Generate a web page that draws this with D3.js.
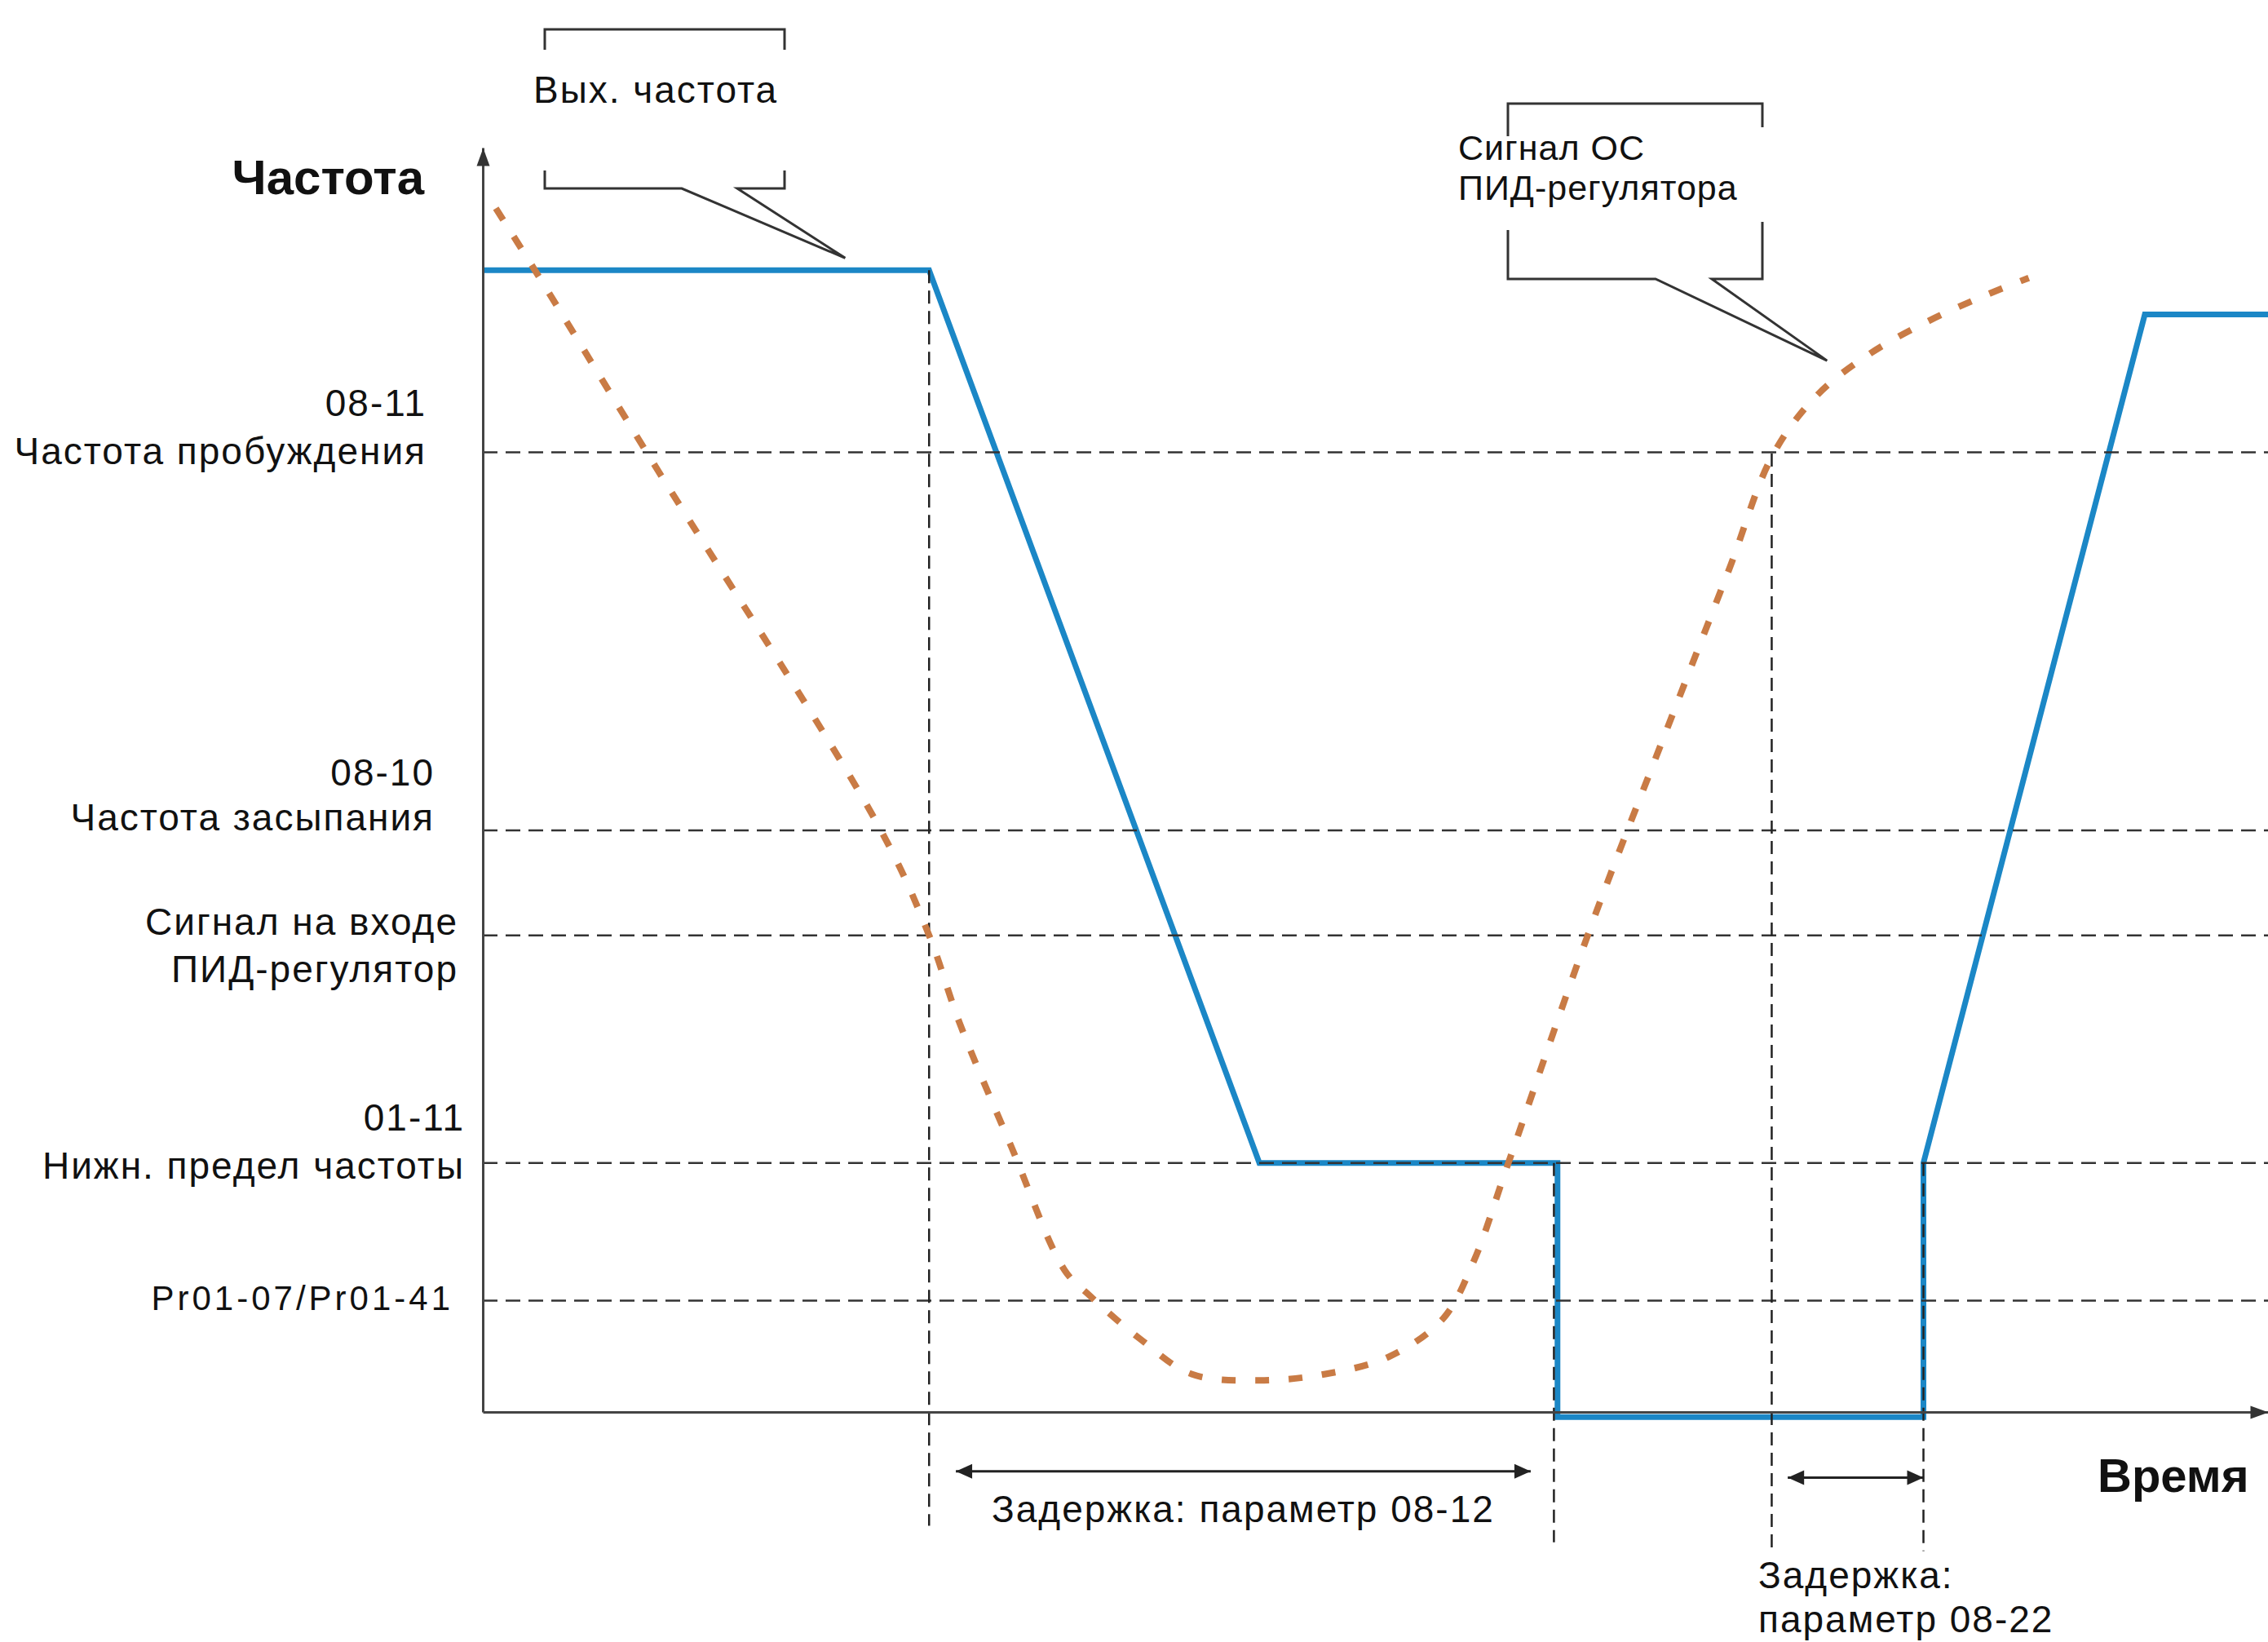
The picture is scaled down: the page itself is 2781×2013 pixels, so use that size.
<!DOCTYPE html>
<html>
<head>
<meta charset="utf-8">
<script src="https://cdn.jsdelivr.net/npm/d3@7"></script>
<style>
  body { margin: 0; background: #fff; }
  text { font-family: "Liberation Sans", Arial, sans-serif; fill: #111; }
</style>
</head>
<body>
<svg id="chart" width="2781" height="2013"></svg>
<script>
// frequency levels (arbitrary units, axis = 0, arrow tip = 100)
const levelValues = [75.9, 46.0, 37.7, 19.7, 8.8];
const levelLabels = [
  ["08-11", "Частота пробуждения"],
  ["08-10", "Частота засыпания"],
  ["Сигнал на входе", "ПИД-регулятор"],
  ["01-11", "Нижн. предел частоты"],
  ["Pr01-07/Pr01-41"]
];

// output frequency (blue)
const outTime = [0, 25, 43.5, 60.2, 60.2, 80.7, 80.7, 93.1, 100];
const outFreq = [90.3, 90.3, 19.7, 19.7, -0.4, -0.4, 19.7, 86.8, 86.8];

// PID feedback signal (orange, dotted)
const fbTime = [0.73, 2.92, 9.18, 22.3, 25.0, 26.7, 29.6, 32.6, 34.0, 36.8, 39.7, 43.5, 47.2,
  50.8, 53.8, 55.5, 57.4, 62.1, 66.3, 69.8, 72.3, 74.8, 77.7, 81.0, 84.3, 86.6];
const fbValue = [95.2, 90.3, 75.9, 46.0, 37.7, 30.8, 21.0, 11.2, 9.2, 5.8, 3.0, 2.5, 3.0,
  4.4, 7.4, 11.9, 19.5, 38.5, 53.9, 66.6, 75.8, 80.5, 83.7, 86.3, 88.4, 89.7];

// vertical time markers
const markTime = [25, 60, 72.2, 80.7];
const markTop = [90.3, 19.7, 75.8, 19.7];
const markBottom = [-9.0, -10.3, -10.8, -11.0];

// delay intervals
const delayStart = [26.5, 73.1];
const delayEnd = [58.7, 80.7];
const delayLevel = [-4.7, -5.2];
const delayText = [["Задержка: параметр 08-12"], ["Задержка:", "параметр 08-22"]];

const svg = d3.select("#chart");

const x = d3.scaleLinear().domain([0, 100]).range([592, 2781]);
const y = d3.scaleLinear().domain([0, 100]).range([1731, 181]);

// markers
const defs = svg.append("defs");
defs.append("marker")
  .attr("id", "axisArrow")
  .attr("markerUnits", "userSpaceOnUse")
  .attr("viewBox", "-24 -10 26 20")
  .attr("refX", 0).attr("refY", 0)
  .attr("markerWidth", 26).attr("markerHeight", 20)
  .attr("orient", "auto")
  .append("path").attr("d", "M0,0L-22,-8L-22,8Z").attr("fill", "#333");
defs.append("marker")
  .attr("id", "delayArrow")
  .attr("markerUnits", "userSpaceOnUse")
  .attr("viewBox", "-24 -10 26 20")
  .attr("refX", 0).attr("refY", 0)
  .attr("markerWidth", 26).attr("markerHeight", 20)
  .attr("orient", "auto-start-reverse")
  .append("path").attr("d", "M0,0L-20,-9L-20,9Z").attr("fill", "#222");

// blue output frequency
const outData = outTime.map((t, i) => ({t, v: outFreq[i]}));
const line = d3.line().x(d => x(d.t)).y(d => y(d.v));
svg.append("path")
  .datum(outData)
  .attr("d", line)
  .attr("fill", "none")
  .attr("stroke", "#1b87c6")
  .attr("stroke-width", 7)
  .attr("stroke-linejoin", "miter");

// horizontal dashed levels
svg.selectAll(".level")
  .data(levelValues)
  .join("line")
  .attr("class", "level")
  .attr("x1", x(0)).attr("x2", x(100))
  .attr("y1", d => y(d)).attr("y2", d => y(d))
  .attr("stroke", "#333")
  .attr("stroke-width", 2.5)
  .attr("stroke-dasharray", "18 10");

// vertical dashed markers
svg.selectAll(".mark")
  .data(markTime)
  .join("line")
  .attr("class", "mark")
  .attr("x1", d => x(d)).attr("x2", d => x(d))
  .attr("y1", (d, i) => y(markTop[i])).attr("y2", (d, i) => y(markBottom[i]))
  .attr("stroke", "#222")
  .attr("stroke-width", 2.5)
  .attr("stroke-dasharray", "16 9");

// orange feedback curve
const fbData = fbTime.map((t, i) => ({t, v: fbValue[i]}));
const curve = d3.line().curve(d3.curveCatmullRom.alpha(0.5)).x(d => x(d.t)).y(d => y(d.v));
svg.append("path")
  .datum(fbData)
  .attr("d", curve)
  .attr("fill", "none")
  .attr("stroke", "#c97b45")
  .attr("stroke-width", 8)
  .attr("stroke-dasharray", "17 24");

// axes
const xAxis = svg.append("g")
  .attr("transform", `translate(0,${y(0)})`)
  .call(d3.axisBottom(x).tickValues([]).tickSizeOuter(0));
const yAxis = svg.append("g")
  .attr("transform", `translate(${x(0)},0)`)
  .call(d3.axisLeft(y).tickValues([]).tickSizeOuter(0));
[xAxis, yAxis].forEach(g => g.select(".domain")
  .attr("stroke", "#444")
  .attr("stroke-width", 3)
  .attr("marker-end", "url(#axisArrow)"));

// axis titles
svg.append("text").attr("x", 520).attr("y", 238)
  .attr("text-anchor", "end").attr("font-size", 60).attr("font-weight", "bold")
  .text("Частота");
svg.append("text").attr("x", 2572).attr("y", 1829)
  .attr("font-size", 58).attr("font-weight", "bold")
  .text("Время");

// level labels
const labelRight = [523, 533, 562, 570, 556];
const labelBase = [[-45, 14], [-55, 0], [-1, 57], [-40, 19], [11]];
levelLabels.forEach((lines, i) => {
  lines.forEach((s, j) => {
    svg.append("text")
      .attr("x", labelRight[i])
      .attr("y", y(levelValues[i]) + labelBase[i][j])
      .attr("text-anchor", "end")
      .attr("font-size", i === 4 ? 42 : 46)
      .attr("letter-spacing", i === 4 ? 4 : 2)
      .attr("fill", i === 4 ? "#333" : "#111")
      .text(s);
  });
});

// delay arrows
svg.selectAll(".delay")
  .data(delayStart)
  .join("line")
  .attr("class", "delay")
  .attr("x1", d => x(d)).attr("x2", (d, i) => x(delayEnd[i]))
  .attr("y1", (d, i) => y(delayLevel[i])).attr("y2", (d, i) => y(delayLevel[i]))
  .attr("stroke", "#222").attr("stroke-width", 3)
  .attr("marker-start", "url(#delayArrow)")
  .attr("marker-end", "url(#delayArrow)");

const delayPos = [[1216, 1866], [2156, 1947]];
delayText.forEach((lines, i) => {
  lines.forEach((s, j) => {
    svg.append("text")
      .attr("x", delayPos[i][0]).attr("y", delayPos[i][1] + j * 54)
      .attr("font-size", 46)
      .attr("letter-spacing", 2)
      .text(s);
  });
});

// callouts
const callout = (left, right, top, topTick, bottom, bottomTick, p1, p2, tip) => {
  const g = svg.append("g").attr("fill", "none").attr("stroke", "#333").attr("stroke-width", 3);
  g.append("path").attr("d",
    `M${left},${top + topTick[0]}V${top}H${right}V${top + topTick[1]}`);
  g.append("path").attr("d",
    `M${left},${bottom - bottomTick[0]}V${bottom}H${p1}L${tip[0]},${tip[1]}L${p2},${bottom}H${right}V${bottom - bottomTick[1]}`)
    .attr("stroke-linejoin", "miter");
};
callout(668, 962, 36, [25, 25], 231, [22, 22], 836, 904, [x(20.3), y(90.3) - 15]);
callout(1849, 2161, 127, [40, 29], 342, [60, 70], 2030, 2099, [x(75.3), y(83.8) + 10]);

svg.append("text").attr("x", 654).attr("y", 126).attr("font-size", 46)
  .attr("letter-spacing", 2).text("Вых. частота");
svg.append("text").attr("x", 1788).attr("y", 196).attr("font-size", 43)
  .attr("letter-spacing", 1).text("Сигнал ОС");
svg.append("text").attr("x", 1788).attr("y", 245).attr("font-size", 43)
  .attr("letter-spacing", 1).text("ПИД-регулятора");
</script>
</body>
</html>
